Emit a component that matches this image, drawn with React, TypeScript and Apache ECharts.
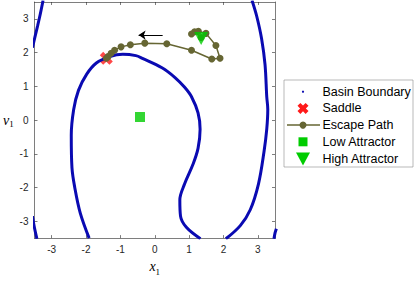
import React, { useEffect, useRef } from "react";
import * as echarts from "echarts";

// ---- data ----
const tickValues = [-3, -2, -1, 0, 1, 2, 3];

const boundaryTopLeftX = [-3.25, -3.33, -3.41, -3.49, -3.56];
const boundaryTopLeftY = [3.55, 3.15, 2.79, 2.45, 2.15];

const boundaryMainX = [-1.91, -2.17, -2.33, -2.41, -2.43, -2.36, -2.22, -1.98, -1.7, -1.31, -0.93, -0.55, -0.36, 0.21, 0.59, 0.87, 1.07, 1.26, 1.32, 1.26, 1.11, 0.87, 0.73, 0.75, 0.92, 1.33];
const boundaryMainY = [-3.5, -2.75, -1.99, -1.41, -0.46, 0.31, 0.88, 1.36, 1.69, 1.88, 1.95, 1.91, 1.83, 1.55, 1.26, 0.97, 0.69, 0.21, -0.27, -0.84, -1.32, -1.89, -2.37, -2.85, -3.18, -3.52];

const boundaryRightX = [2.07, 2.49, 2.78, 3.02, 3.18, 3.26, 3.29, 3.26, 3.21, 3.11, 2.97, 2.83];
const boundaryRightY = [-3.52, -3.13, -2.66, -1.89, -0.94, -0.27, 0.31, 0.69, 1.64, 2.41, 3.07, 3.55];

const boundaryBottomLeftX = [-3.56, -3.5, -3.43];
const boundaryBottomLeftY = [-2.85, -3.2, -3.52];

const boundaryBottomRightX = [3.54, 3.5, 3.47];
const boundaryBottomRightY = [-3.22, -3.35, -3.52];

const saddle = [-1.41, 1.83];
const lowAttractor = [-0.43, 0.09];
const highAttractor = [1.35, 2.42];

const escapeX = [1.35, 1.16, 1.07, 1.27, 1.49, 1.78, 1.9, 1.66, 1.07, 0.35, -0.29, -0.71, -0.98, -1.17, -1.27, -1.36, -1.41];
const escapeY = [2.45, 2.62, 2.55, 2.63, 2.57, 2.21, 1.83, 1.81, 2.07, 2.26, 2.28, 2.23, 2.17, 2.07, 1.98, 1.88, 1.83];

const arrowFrom = [0.23, 2.52];
const arrowTo = [-0.47, 2.52];

const legendNames = ["Basin Boundary", "Saddle", "Escape Path", "Low Attractor", "High Attractor"];

const BLUE = "#0a0ab2";
const RED = "#ff1a1a";
const GREEN = "#00cc00";
const OLIVE = "#666633";
const AXIS = "#262626";

const zip = (xs: number[], ys: number[]) => xs.map((x, i) => [x, ys[i]]);

const X_PATH = "path://M2.6,0 L5,2.4 L7.4,0 L10,2.6 L7.6,5 L10,7.4 L7.4,10 L5,7.6 L2.6,10 L0,7.4 L2.4,5 L0,2.6 Z";

function xPoints(cx: number, cy: number, s: number) {
  const p = [[2.6,0],[5,2.4],[7.4,0],[10,2.6],[7.6,5],[10,7.4],[7.4,10],[5,7.6],[2.6,10],[0,7.4],[2.4,5],[0,2.6]];
  return p.map(([a, b]) => [cx + (a - 5) * s / 10, cy + (b - 5) * s / 10]);
}

export default function App() {
  const ref = useRef<HTMLDivElement>(null);
  useEffect(() => {
    if (!ref.current) return;
    const chart = echarts.init(ref.current, undefined, { renderer: "svg" });
    const boundary = (xs: number[], ys: number[]) => ({
      type: "line",
      data: zip(xs, ys),
      showSymbol: false,
      smooth: 0.35,
      clip: true,
      lineStyle: { color: BLUE, width: 3 },
      silent: true,
    });
    const baseX = {
      type: "value",
      min: -3.5,
      max: 3.5,
      splitLine: { show: false },
      axisLine: { show: true, onZero: false, lineStyle: { color: AXIS, width: 0.6 } },
      axisTick: { show: true, inside: true, length: 3, customValues: tickValues, lineStyle: { color: AXIS, width: 0.6 } },
    };
    const lx = 284, ly = 80, rowH = 16.7, iconX = 303, textX = 322.5;
    const rowY = (i: number) => ly + 11.7 + i * rowH;
    const legendGraphics: any[] = [
      { type: "rect", shape: { x: lx, y: ly, width: 129, height: 87 }, style: { fill: "#fff", stroke: "#8c8c8c", lineWidth: 0.6 }, z: 100 },
      { type: "circle", shape: { cx: iconX, cy: rowY(0), r: 1.1 }, style: { fill: BLUE }, z: 101 },
      { type: "polygon", shape: { points: xPoints(iconX, rowY(1), 11) }, style: { fill: RED }, z: 101 },
      { type: "line", shape: { x1: 287, y1: rowY(2), x2: 320, y2: rowY(2) }, style: { stroke: OLIVE, lineWidth: 1.5 }, z: 101 },
      { type: "circle", shape: { cx: iconX, cy: rowY(2), r: 3.5 }, style: { fill: OLIVE }, z: 102 },
      { type: "rect", shape: { x: iconX - 4.5, y: rowY(3) - 4.5, width: 9, height: 9 }, style: { fill: GREEN }, z: 101 },
      { type: "polygon", shape: { points: [[iconX - 7, rowY(4) - 6], [iconX + 7, rowY(4) - 6], [iconX, rowY(4) + 7]] }, style: { fill: GREEN }, z: 101 },
      ...legendNames.map((n, i) => ({
        type: "text",
        x: textX,
        y: rowY(i),
        style: { text: n, fill: "#000", font: "12.5px 'Liberation Sans', Arial, sans-serif", verticalAlign: "middle", align: "left" },
        z: 101,
      })),
    ];
    chart.setOption({
      animation: false,
      backgroundColor: "#fff",
      grid: { left: 30, top: 2, width: 245, height: 244, containLabel: false },
      xAxis: [
        {
          ...baseX,
          position: "bottom",
          axisLabel: { customValues: tickValues, color: AXIS, fontSize: 10, margin: 6, fontFamily: "'Liberation Sans', Arial, sans-serif" },
          name: "{i|x}{s|1}",
          nameLocation: "middle",
          nameGap: 17,
          nameTextStyle: {
            rich: {
              i: { fontFamily: "'Liberation Serif', serif", fontStyle: "italic", fontSize: 14, color: "#000", verticalAlign: "top" },
              s: { fontFamily: "'Liberation Serif', serif", fontSize: 9, color: "#000", padding: [8, 0, 0, 0] },
            },
          },
        },
        { ...baseX, position: "top", axisLabel: { show: false } },
      ],
      yAxis: [
        {
          ...baseX,
          position: "left",
          axisLabel: { customValues: tickValues, color: AXIS, fontSize: 10, margin: 6, fontFamily: "'Liberation Sans', Arial, sans-serif" },
          name: "{i|v}{s|1}",
          nameLocation: "middle",
          nameRotate: 0,
          nameGap: 18,
          nameTextStyle: {
            rich: {
              i: { fontFamily: "'Liberation Serif', serif", fontStyle: "italic", fontSize: 14, color: "#000" },
              s: { fontFamily: "'Liberation Serif', serif", fontSize: 9, color: "#000", padding: [8, 0, 0, 0] },
            },
          },
        },
        { ...baseX, position: "right", axisLabel: { show: false } },
      ],
      series: [
        boundary(boundaryTopLeftX, boundaryTopLeftY),
        boundary(boundaryMainX, boundaryMainY),
        boundary(boundaryRightX, boundaryRightY),
        boundary(boundaryBottomLeftX, boundaryBottomLeftY),
        boundary(boundaryBottomRightX, boundaryBottomRightY),
        {
          type: "line",
          name: "Escape Path",
          data: zip(escapeX, escapeY),
          symbol: "circle",
          symbolSize: 7,
          showAllSymbol: true,
          itemStyle: { color: OLIVE },
          lineStyle: { color: OLIVE, width: 1.5 },
          z: 3,
        },
        {
          type: "scatter",
          name: "Saddle",
          data: [saddle],
          symbol: X_PATH,
          symbolSize: 13,
          itemStyle: { color: RED },
          z: 2,
        },
        {
          type: "scatter",
          name: "Low Attractor",
          data: [lowAttractor],
          symbol: "rect",
          symbolSize: 10,
          itemStyle: { color: GREEN },
          z: 4,
        },
        {
          type: "scatter",
          name: "High Attractor",
          data: [highAttractor],
          symbol: "triangle",
          symbolRotate: 180,
          symbolSize: [14, 13],
          itemStyle: { color: GREEN },
          z: 4,
        },
        {
          type: "lines",
          coordinateSystem: "cartesian2d",
          data: [{ coords: [arrowFrom, arrowTo] }],
          symbol: ["none", "arrow"],
          symbolSize: [0, 7],
          lineStyle: { color: "#000", width: 1, opacity: 1 },
          z: 5,
        },
      ],
      graphic: legendGraphics,
    });
    return () => chart.dispose();
  }, []);
  return <div ref={ref} style={{ width: 415, height: 281, position: "absolute", left: 0, top: 0 }} />;
}
